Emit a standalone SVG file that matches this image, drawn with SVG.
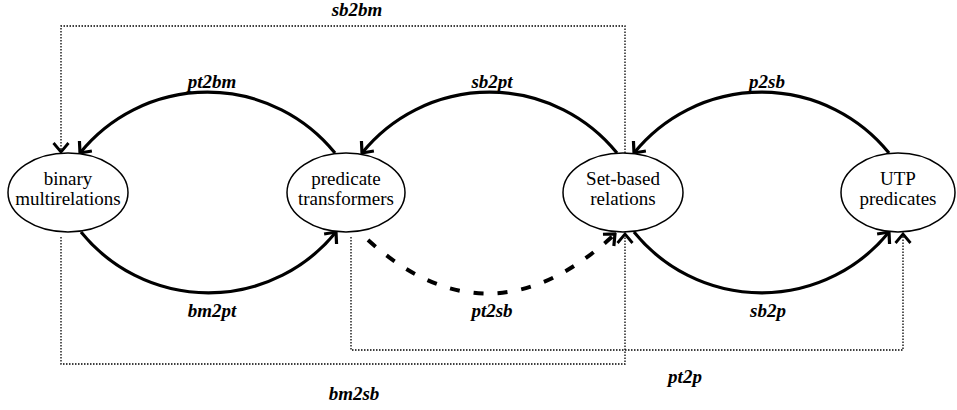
<svg xmlns="http://www.w3.org/2000/svg" width="957" height="410" viewBox="0 0 957 410">
<style>
.node ellipse{fill:#fff;stroke:#000;stroke-width:1.5}
.node text{font-size:19px;text-anchor:middle;fill:#000}
.lbl{font-size:19px;font-weight:bold;font-style:italic;text-anchor:middle;fill:#000}
.solid{fill:none;stroke:#000;stroke-width:3.2;marker-end:url(#ah)}
.dash{fill:none;stroke:#000;stroke-width:4;stroke-dasharray:10 14;marker-end:url(#ah)}
.dot{fill:none;stroke:#000;stroke-width:1.3;stroke-dasharray:1.5 1.5;marker-end:url(#ahs)}
</style>
<defs>
<marker id="ah" markerUnits="userSpaceOnUse" viewBox="-14 -12 16 24" refX="0" refY="0" markerWidth="16" markerHeight="24" orient="auto">
<path d="M-9,-8 L0,0 L-9,8" fill="none" stroke="#000" stroke-width="3.2" stroke-dasharray="none"/>
</marker>
<marker id="ahs" markerUnits="userSpaceOnUse" viewBox="-14 -12 16 24" refX="0" refY="0" markerWidth="16" markerHeight="24" orient="auto">
<path d="M-9,-7.5 L0,0 L-9,7.5" fill="none" stroke="#000" stroke-width="2.8"/>
</marker>
</defs>
<g id="connectors">
<path class="dot" d="M625,153 V26 H61 V152"/>
<path class="dot" d="M61,237 V364 H625 V234"/>
<path class="dot" d="M351,237 V350 H903 V234"/>
<path class="solid" d="M335,153 A164,164 0 0 0 80,153"/>
<path class="solid" d="M617,153 A164,164 0 0 0 362,153"/>
<path class="solid" d="M889,153 A164,164 0 0 0 634,153"/>
<path class="solid" d="M81,232 A164,164 0 0 0 336,232"/>
<path class="solid" d="M634,232 A164,164 0 0 0 889,232"/>
<path class="dash" d="M368,240 Q490,350 615,234"/>
</g>
<g font-family="'Liberation Serif', 'Times New Roman', 'DejaVu Serif', serif">
<g id="binary-multirelations" class="node">
<ellipse cx="68" cy="192.5" rx="60" ry="39.5"/>
<text x="68" y="185">binary</text>
<text x="68" y="205">multirelations</text>
</g>
<g id="predicate-transformers" class="node">
<ellipse cx="346" cy="192.5" rx="59" ry="39.5"/>
<text x="346" y="185">predicate</text>
<text x="346" y="205">transformers</text>
</g>
<g id="set-based-relations" class="node">
<ellipse cx="623" cy="192.5" rx="60" ry="39.5"/>
<text x="623" y="185">Set-based</text>
<text x="623" y="205">relations</text>
</g>
<g id="utp-predicates" class="node">
<ellipse cx="898" cy="192.5" rx="57" ry="39.5"/>
<text x="898" y="185">UTP</text>
<text x="898" y="205">predicates</text>
</g>
<g id="labels">
<text class="lbl" x="357" y="16">sb2bm</text>
<text class="lbl" x="212" y="88">pt2bm</text>
<text class="lbl" x="492" y="88">sb2pt</text>
<text class="lbl" x="767" y="88">p2sb</text>
<text class="lbl" x="212" y="317">bm2pt</text>
<text class="lbl" x="492" y="317">pt2sb</text>
<text class="lbl" x="768" y="317">sb2p</text>
<text class="lbl" x="354" y="400">bm2sb</text>
<text class="lbl" x="685" y="383">pt2p</text>
</g>
</g>
</svg>
